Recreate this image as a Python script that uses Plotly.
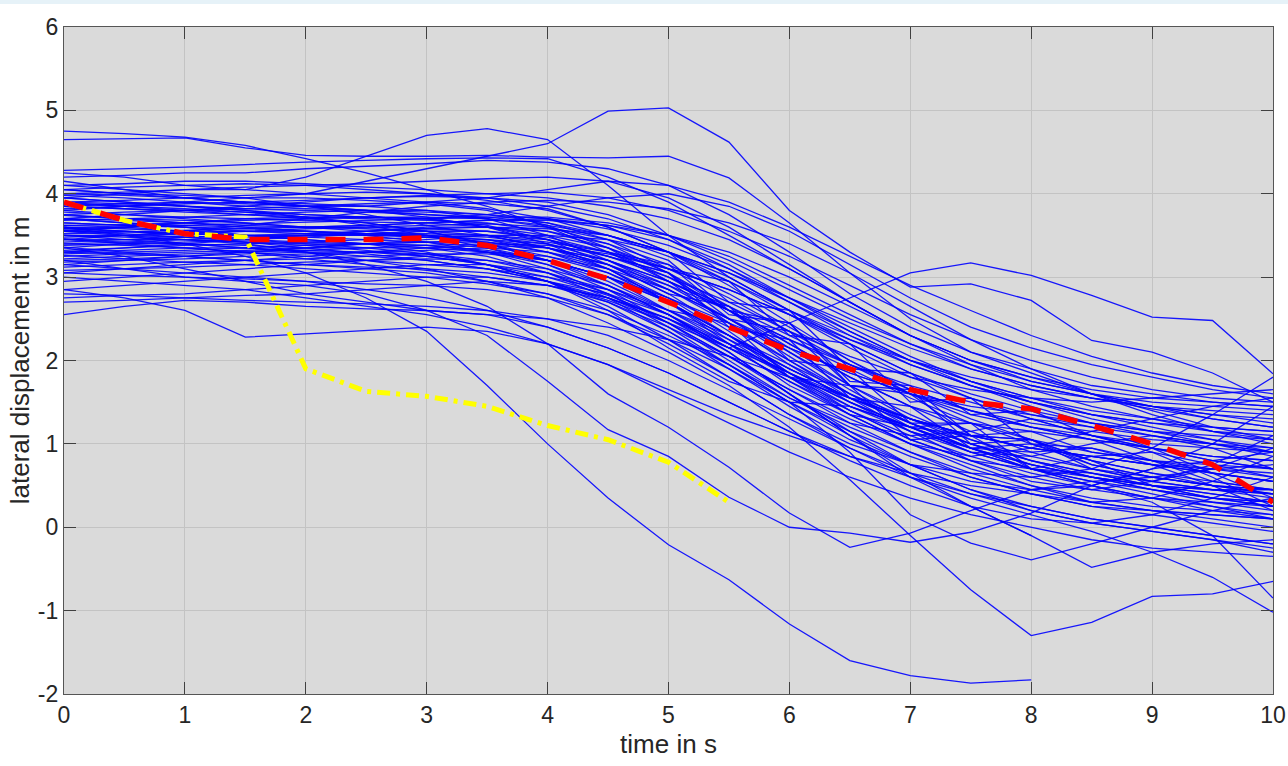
import plotly.graph_objects as go

# sample instants (s)
time_s = [0, 0.5, 1, 1.5, 2, 2.5, 3, 3.5, 4, 4.5, 5, 5.5, 6, 6.5, 7, 7.5, 8, 8.5, 9, 9.5, 10]

# recorded lateral displacement of every run (m), one value per sample instant
run_01 = [4.75, 4.72, 4.68, 4.58, 4.42, 4.25, 4.05, 3.85, 3.6, 3.3, 2.95, 2.6, 2.25, 1.95, 1.7, 1.5, 1.3, 1.1, 0.9, 0.75, 0.6]
run_02 = [4.65, 4.66, 4.67, 4.55, 4.46, 4.45, 4.45, 4.46, 4.44, 4.43, 4.45, 4.19, 3.65, 3.05, 2.5, 2.1, 1.85, 1.6, 1.4, 1.2, 1.05]
run_03 = [3.8, 3.85, 3.9, 3.95, 4.0, 4.15, 4.3, 4.45, 4.6, 4.99, 5.03, 4.62, 3.8, 3.3, 2.88, 2.92, 2.72, 2.24, 2.1, 1.85, 1.5]
run_04 = [4.25, 4.2, 4.1, 4.05, 4.2, 4.45, 4.7, 4.78, 4.65, 4.1, 3.5, 3.0, 2.6, 2.3, 2.0, 1.75, 1.55, 1.35, 1.2, 1.05, 0.9]
run_05 = [4.28, 4.3, 4.32, 4.35, 4.38, 4.4, 4.42, 4.43, 4.42, 4.2, 3.9, 3.5, 3.1, 2.7, 2.3, 2.0, 1.8, 1.6, 1.45, 1.3, 1.2]
run_06 = [4.2, 4.22, 4.25, 4.25, 4.3, 4.33, 4.36, 4.4, 4.38, 4.3, 4.1, 3.75, 3.3, 2.8, 2.4, 2.1, 1.9, 1.7, 1.6, 1.5, 1.45]
run_07 = [4.15, 4.05, 3.95, 3.9, 3.85, 3.85, 3.9, 3.95, 4.05, 4.15, 4.1, 3.9, 3.6, 3.25, 2.9, 2.6, 2.3, 2.05, 1.85, 1.7, 1.6]
run_08 = [3.35, 3.4, 3.4, 3.35, 3.3, 3.25, 3.2, 3.1, 2.95, 2.8, 2.55, 2.15, 2.45, 2.75, 3.05, 3.17, 3.02, 2.78, 2.52, 2.48, 1.84]
run_09 = [3.6, 3.5, 3.4, 3.25, 3.05, 2.75, 2.35, 1.7, 1.0, 0.35, -0.21, -0.63, -1.16, -1.6, -1.78, -1.87, -1.83]
run_10 = [3.2, 3.1, 3.0, 2.95, 2.9, 2.8, 2.6, 2.3, 1.75, 1.17, 0.85, 0.36, 0.0, -0.07, -0.18, -0.06, 0.17, 0.5, 0.7, 0.8, 0.9]
run_11 = [3.55, 3.5, 3.45, 3.4, 3.3, 3.15, 2.95, 2.65, 2.2, 1.6, 1.2, 0.72, 0.17, -0.24, -0.07, 0.2, 0.45, 0.55, 0.6, 0.7, 0.75]
run_12 = [3.9, 3.85, 3.8, 3.75, 3.7, 3.65, 3.55, 3.4, 3.2, 2.9, 2.55, 2.1, 1.6, 1.1, 0.6, 0.25, -0.1]
run_13 = [3.5, 3.45, 3.4, 3.35, 3.3, 3.2, 3.1, 2.95, 2.75, 2.45, 2.1, 1.7, 1.2, 0.57, -0.1, -0.75, -1.3, -1.14, -0.83, -0.8, -0.65]
run_14 = [3.7, 3.65, 3.6, 3.5, 3.45, 3.4, 3.3, 3.15, 2.95, 2.7, 2.35, 1.95, 1.5, 0.9, 0.15, -0.19, -0.39, -0.2, 0.0, 0.2, 0.35]
run_15 = [4.05, 4.0, 3.95, 3.9, 3.88, 3.85, 3.8, 3.7, 3.5, 3.2, 2.85, 2.5, 2.15, 1.85, 1.6, 1.45, 1.35, 1.25, 1.15, 1.05, 0.95]
run_16 = [3.95, 3.9, 3.85, 3.82, 3.8, 3.78, 3.75, 3.72, 3.65, 3.5, 3.3, 2.7, 2.6, 1.9, 1.85, 1.35, 1.4, 1.1, 0.95, 0.8, 0.7]
run_17 = [3.85, 3.82, 3.8, 3.78, 3.75, 3.72, 3.7, 3.6, 3.4, 3.1, 2.7, 2.25, 1.8, 1.4, 1.05, 0.8, 0.6, 0.45, 0.35, 0.3, 0.25]
run_18 = [3.78, 3.75, 3.72, 3.7, 3.68, 3.66, 3.65, 3.6, 3.5, 3.35, 3.1, 2.75, 2.35, 1.95, 1.6, 1.35, 1.2, 1.1, 1.0, 0.95, 0.9]
run_19 = [3.7, 3.68, 3.65, 3.62, 3.6, 3.6, 3.58, 3.55, 3.45, 3.25, 3.05, 2.4, 2.25, 1.55, 1.45, 0.95, 1.0, 0.75, 0.6, 0.5, 0.4]
run_20 = [3.65, 3.62, 3.6, 3.55, 3.52, 3.5, 3.5, 3.48, 3.4, 3.2, 2.9, 2.5, 2.05, 1.6, 1.2, 0.9, 0.7, 0.55, 0.45, 0.35, 0.3]
run_21 = [3.6, 3.58, 3.55, 3.55, 3.55, 3.52, 3.5, 3.45, 3.3, 3.05, 2.7, 2.3, 1.9, 1.55, 1.3, 1.1, 0.95, 0.85, 0.75, 0.65, 0.55]
run_22 = [3.55, 3.55, 3.52, 3.5, 3.48, 3.45, 3.42, 3.35, 3.2, 3.0, 2.75, 2.45, 2.15, 1.85, 1.6, 1.4, 1.25, 1.15, 1.05, 1.0, 0.95]
run_23 = [3.5, 3.5, 3.48, 3.45, 3.42, 3.4, 3.38, 3.32, 3.2, 3.0, 2.6, 2.45, 1.8, 1.7, 1.05, 1.1, 0.7, 0.6, 0.45, 0.35, 0.25]
run_24 = [3.45, 3.45, 3.45, 3.42, 3.4, 3.4, 3.38, 3.3, 3.15, 2.9, 2.55, 2.15, 1.75, 1.4, 1.1, 0.85, 0.65, 0.5, 0.35, 0.2, 0.1]
run_25 = [3.4, 3.42, 3.45, 3.48, 3.5, 3.52, 3.52, 3.5, 3.42, 3.3, 3.1, 2.85, 2.55, 2.25, 2.0, 1.8, 1.65, 1.55, 1.45, 1.4, 1.35]
run_26 = [3.3, 3.35, 3.4, 3.45, 3.5, 3.55, 3.6, 3.6, 3.55, 3.4, 3.15, 2.8, 2.4, 2.0, 1.65, 1.4, 1.2, 1.05, 0.95, 0.85, 0.8]
run_27 = [3.25, 3.28, 3.3, 3.32, 3.35, 3.4, 3.45, 3.5, 3.5, 3.45, 3.3, 3.05, 2.7, 2.35, 2.0, 1.75, 1.55, 1.4, 1.3, 1.2, 1.15]
run_28 = [3.15, 3.2, 3.25, 3.3, 3.35, 3.4, 3.42, 3.45, 3.4, 3.25, 3.05, 2.5, 2.35, 1.7, 1.6, 1.1, 1.15, 0.9, 0.8, 0.7, 0.6]
run_29 = [3.05, 3.1, 3.15, 3.2, 3.25, 3.3, 3.35, 3.38, 3.35, 3.2, 2.95, 2.6, 2.2, 1.8, 1.45, 1.15, 0.9, 0.7, 0.55, 0.45, 0.35]
run_30 = [2.95, 3.0, 3.05, 3.1, 3.15, 3.2, 3.25, 3.3, 3.25, 3.1, 2.85, 2.5, 2.1, 1.7, 1.35, 1.05, 0.8, 0.6, 0.45, 0.3, 0.2]
run_31 = [2.85, 2.9, 2.95, 3.0, 3.05, 3.1, 3.15, 3.15, 3.05, 2.85, 2.55, 2.2, 1.85, 1.5, 1.2, 0.95, 0.75, 0.6, 0.5, 0.4, 0.3]
run_32 = [2.75, 2.78, 2.8, 2.85, 2.9, 2.95, 3.0, 3.0, 2.9, 2.7, 2.4, 2.05, 1.65, 1.25, 0.9, 0.6, 0.4, 0.25, 0.15, 0.05, -0.05]
run_33 = [2.55, 2.65, 2.72, 2.7, 2.65, 2.62, 2.6, 2.55, 2.4, 2.15, 1.85, 1.5, 1.15, 0.85, 0.6, 0.4, 0.25, 0.1, 0.0, -0.1, -0.2]
run_34 = [2.85, 2.75, 2.6, 2.28, 2.32, 2.36, 2.4, 2.35, 2.2, 1.95, 1.6, 1.25, 0.9, 0.6, 0.35, 0.15, 0.0, -0.15, -0.25, -0.3, -0.35]
run_35 = [2.8, 2.78, 2.75, 2.72, 2.7, 2.68, 2.65, 2.6, 2.5, 2.3, 2.0, 1.65, 1.3, 0.95, 0.65, 0.4, 0.2, 0.05, -0.05, -0.15, -0.3]
run_36 = [3.0, 2.95, 2.9, 2.85, 2.75, 2.65, 2.55, 2.4, 2.2, 1.95, 1.65, 1.35, 1.1, 0.85, 0.65, 0.5, 0.4, 0.3, 0.2, 0.15, 0.1]
run_37 = [3.35, 3.25, 3.1, 2.95, 2.8, 2.7, 2.6, 2.55, 2.5, 2.4, 2.25, 2.05, 1.8, 1.55, 1.3, 1.1, 0.95, 0.85, 0.75, 0.65, 0.55]
run_38 = [4.1, 4.05, 4.0, 3.95, 3.85, 3.75, 3.62, 3.5, 3.35, 3.15, 2.9, 2.6, 2.25, 1.9, 1.55, 1.25, 1.0, 0.8, 0.65, 0.55, 0.45]
run_39 = [4.0, 4.02, 4.05, 4.08, 4.1, 4.12, 4.15, 4.18, 4.2, 4.15, 3.95, 3.6, 3.15, 2.7, 2.3, 2.0, 1.75, 1.6, 1.5, 1.45, 1.4]
run_40 = [3.9, 3.92, 3.95, 3.98, 4.0, 4.02, 4.0, 3.95, 3.85, 3.7, 3.45, 3.1, 2.7, 2.3, 1.95, 1.7, 1.5, 1.35, 1.25, 1.15, 1.1]
run_41 = [3.82, 3.85, 3.88, 3.9, 3.92, 3.95, 3.97, 3.95, 3.9, 3.75, 3.5, 3.2, 2.85, 2.5, 2.2, 1.95, 1.75, 1.6, 1.45, 1.35, 1.25]
run_42 = [3.75, 3.78, 3.8, 3.82, 3.85, 3.88, 3.9, 3.88, 3.82, 3.6, 3.3, 2.9, 2.45, 2.0, 1.6, 1.3, 1.05, 0.9, 0.8, 0.75, 0.7]
run_43 = [3.68, 3.7, 3.72, 3.75, 3.78, 3.8, 3.8, 3.75, 3.65, 3.45, 3.2, 2.6, 2.45, 1.75, 1.7, 1.1, 1.05, 0.8, 0.65, 0.5, 0.4]
run_44 = [3.62, 3.63, 3.65, 3.68, 3.7, 3.72, 3.72, 3.7, 3.6, 3.4, 3.05, 2.6, 2.1, 1.65, 1.25, 0.95, 0.7, 0.5, 0.35, 0.25, 0.15]
run_45 = [3.58, 3.6, 3.62, 3.64, 3.66, 3.68, 3.7, 3.72, 3.72, 3.65, 3.5, 3.25, 2.9, 2.55, 2.2, 1.9, 1.7, 1.55, 1.45, 1.35, 1.3]
run_46 = [3.52, 3.54, 3.56, 3.58, 3.6, 3.62, 3.65, 3.68, 3.7, 3.62, 3.45, 3.15, 2.75, 2.35, 2.0, 1.7, 1.45, 1.25, 1.1, 1.0, 0.9]
run_47 = [3.48, 3.5, 3.52, 3.55, 3.58, 3.6, 3.62, 3.64, 3.6, 3.45, 3.1, 2.95, 2.3, 2.2, 1.5, 1.55, 1.0, 0.95, 0.8, 0.65, 0.55]
run_48 = [3.42, 3.45, 3.48, 3.5, 3.52, 3.55, 3.58, 3.6, 3.58, 3.5, 3.3, 3.0, 2.6, 2.2, 1.85, 1.6, 1.4, 1.25, 1.15, 1.1, 1.05]
run_49 = [3.38, 3.4, 3.42, 3.45, 3.48, 3.52, 3.55, 3.55, 3.48, 3.3, 3.0, 2.6, 2.15, 1.7, 1.3, 1.0, 0.75, 0.6, 0.5, 0.45, 0.4]
run_50 = [3.32, 3.35, 3.38, 3.4, 3.42, 3.45, 3.48, 3.5, 3.45, 3.3, 3.15, 2.55, 2.45, 1.7, 1.65, 1.0, 1.05, 0.75, 0.6, 0.5, 0.45]
run_51 = [3.28, 3.3, 3.32, 3.35, 3.38, 3.4, 3.42, 3.42, 3.35, 3.2, 2.95, 2.65, 2.3, 1.95, 1.65, 1.4, 1.2, 1.05, 0.95, 0.85, 0.8]
run_52 = [3.22, 3.25, 3.28, 3.3, 3.32, 3.35, 3.38, 3.4, 3.38, 3.28, 3.1, 2.85, 2.55, 2.2, 1.85, 1.55, 1.3, 1.1, 0.95, 0.8, 0.7]
run_53 = [3.18, 3.2, 3.22, 3.25, 3.28, 3.3, 3.32, 3.35, 3.3, 3.15, 2.8, 2.65, 2.0, 1.9, 1.25, 1.25, 0.7, 0.65, 0.5, 0.35, 0.25]
run_54 = [3.12, 3.15, 3.18, 3.2, 3.22, 3.25, 3.28, 3.28, 3.2, 3.0, 2.7, 2.3, 1.9, 1.55, 1.25, 1.0, 0.8, 0.65, 0.55, 0.45, 0.4]
run_55 = [3.08, 3.1, 3.12, 3.15, 3.18, 3.2, 3.22, 3.2, 3.1, 2.9, 2.6, 2.25, 1.9, 1.55, 1.25, 1.0, 0.8, 0.65, 0.5, 0.4, 0.3]
run_56 = [3.7, 3.75, 3.8, 3.85, 3.9, 3.95, 3.98, 4.0, 4.02, 3.95, 3.8, 3.55, 3.25, 2.9, 2.55, 2.25, 2.0, 1.8, 1.65, 1.55, 1.5]
run_57 = [3.95, 3.9, 3.85, 3.8, 3.75, 3.72, 3.7, 3.75, 3.85, 3.95, 4.0, 3.85, 3.55, 3.15, 2.75, 2.4, 2.15, 1.95, 1.8, 1.65, 1.55]
run_58 = [4.05, 4.08, 4.1, 4.12, 4.1, 4.05, 4.0, 3.92, 3.8, 3.6, 3.3, 2.95, 2.55, 2.15, 1.8, 1.55, 1.35, 1.2, 1.1, 1.0, 0.9]
run_59 = [3.88, 3.85, 3.82, 3.78, 3.72, 3.65, 3.55, 3.4, 3.2, 2.95, 2.6, 2.2, 1.8, 1.45, 1.15, 0.9, 0.7, 0.55, 0.4, 0.25, 0.1]
run_60 = [3.74, 3.7, 3.65, 3.6, 3.55, 3.5, 3.42, 3.3, 3.1, 2.8, 2.4, 1.95, 1.5, 1.1, 0.75, 0.45, 0.25, 0.1, 0.0, -0.1, -0.2]
run_61 = [3.56, 3.52, 3.48, 3.42, 3.35, 3.28, 3.2, 3.1, 2.95, 2.72, 2.45, 2.15, 1.85, 1.55, 1.3, 1.1, 0.95, 0.85, 0.75, 0.7, 0.65]
run_62 = [3.46, 3.4, 3.35, 3.3, 3.25, 3.2, 3.15, 3.1, 3.0, 2.85, 2.6, 2.3, 1.95, 1.6, 1.3, 1.05, 0.85, 0.7, 0.6, 0.5, 0.45]
run_63 = [3.36, 3.3, 3.25, 3.2, 3.15, 3.12, 3.1, 3.05, 2.95, 2.75, 2.45, 2.05, 1.6, 1.15, 0.75, 0.45, 0.2, 0.05, -0.05, -0.15, -0.25]
run_64 = [3.26, 3.22, 3.18, 3.15, 3.1, 3.05, 3.0, 2.92, 2.8, 2.6, 2.3, 1.95, 1.55, 1.2, 0.9, 0.65, 0.45, 0.3, 0.2, 0.1, 0.0]
run_65 = [3.6, 3.55, 3.5, 3.45, 3.4, 3.35, 3.28, 3.15, 2.95, 2.65, 2.25, 1.8, 1.35, 0.95, 0.6, 0.35, 0.15, -0.05, -0.3, -0.6, -1.02]
run_66 = [3.8, 3.75, 3.7, 3.65, 3.6, 3.55, 3.5, 3.4, 3.25, 3.05, 2.75, 2.4, 2.0, 1.6, 1.25, 0.95, 0.7, 0.5, 0.3, -0.1, -0.85]
run_67 = [3.5, 3.48, 3.45, 3.42, 3.38, 3.32, 3.25, 3.15, 3.0, 2.78, 2.5, 2.1, 1.6, 1.1, 0.65, 0.25, -0.1, -0.48, -0.3, -0.2, -0.15]
run_68 = [3.3, 3.28, 3.25, 3.2, 3.15, 3.1, 3.05, 2.95, 2.8, 2.55, 2.2, 1.8, 1.35, 1.0, 0.75, 0.65, 0.6, 0.7, 0.95, 1.35, 1.8]
run_69 = [3.62, 3.6, 3.55, 3.5, 3.45, 3.4, 3.35, 3.25, 3.05, 2.75, 2.35, 1.9, 1.45, 1.05, 0.75, 0.55, 0.45, 0.5, 0.7, 1.0, 1.45]
run_70 = [4.0, 3.98, 3.95, 3.9, 3.85, 3.8, 3.72, 3.6, 3.45, 3.25, 3.0, 2.7, 2.35, 2.05, 1.8, 1.65, 1.55, 1.5, 1.55, 1.6, 1.65]
run_71 = [3.15, 3.1, 3.05, 3.0, 2.95, 2.85, 2.75, 2.6, 2.4, 2.15, 1.85, 1.5, 1.15, 0.8, 0.5, 0.25, 0.1, 0.05, 0.15, 0.35, 0.6]
run_72 = [2.7, 2.72, 2.75, 2.78, 2.8, 2.85, 2.9, 2.95, 2.9, 2.75, 2.5, 2.2, 1.85, 1.5, 1.2, 0.95, 0.75, 0.6, 0.5, 0.45, 0.45]
run_73 = [3.95, 4.0, 4.05, 4.05, 4.0, 3.95, 3.9, 3.82, 3.7, 3.5, 3.25, 2.95, 2.6, 2.25, 1.95, 1.7, 1.5, 1.35, 1.25, 1.2, 1.15]
run_74 = [4.1, 4.12, 4.15, 4.15, 4.12, 4.08, 4.05, 4.0, 3.95, 3.85, 3.7, 3.45, 3.1, 2.7, 2.3, 1.95, 1.65, 1.45, 1.3, 1.15, 1.05]
run_75 = [3.45, 3.5, 3.55, 3.62, 3.7, 3.78, 3.85, 3.9, 3.92, 3.9, 3.82, 3.65, 3.4, 3.05, 2.65, 2.25, 1.9, 1.6, 1.35, 1.15, 1.0]
run_76 = [3.05, 3.02, 3.0, 2.98, 2.95, 2.92, 2.9, 2.85, 2.75, 2.55, 2.25, 1.9, 1.5, 1.15, 0.85, 0.6, 0.4, 0.25, 0.2, 0.15, 0.1]
run_77 = [3.85, 3.88, 3.9, 3.88, 3.85, 3.8, 3.75, 3.7, 3.62, 3.5, 3.3, 3.05, 2.75, 2.45, 2.15, 1.9, 1.7, 1.55, 1.42, 1.3, 1.2]
run_78 = [3.7, 3.65, 3.62, 3.6, 3.6, 3.62, 3.65, 3.68, 3.68, 3.62, 3.5, 3.3, 3.0, 2.65, 2.3, 2.0, 1.8, 1.65, 1.55, 1.5, 1.45]
run_79 = [3.4, 3.38, 3.35, 3.3, 3.22, 3.15, 3.08, 3.0, 2.9, 2.75, 2.5, 2.15, 1.75, 1.35, 1.0, 0.7, 0.5, 0.35, 0.25, 0.2, 0.15]
run_80 = [3.98, 3.95, 3.9, 3.85, 3.82, 3.8, 3.78, 3.75, 3.7, 3.58, 3.38, 3.1, 2.75, 2.4, 2.05, 1.75, 1.5, 1.3, 1.15, 1.0, 0.85]
run_81 = [3.75, 3.7, 3.68, 3.65, 3.6, 3.58, 3.55, 3.5, 3.35, 3.1, 2.7, 2.2, 1.7, 1.35, 1.2, 1.25, 1.05, 0.7, 0.55, 0.7, 0.95]
run_82 = [3.3, 3.32, 3.35, 3.35, 3.32, 3.3, 3.25, 3.15, 2.95, 2.6, 2.15, 1.75, 1.5, 1.45, 1.2, 0.9, 0.85, 1.0, 1.1, 0.95, 0.7]
run_83 = [3.9, 3.88, 3.85, 3.8, 3.72, 3.62, 3.5, 3.35, 3.15, 2.85, 2.45, 2.0, 1.55, 1.25, 1.1, 1.15, 1.3, 1.2, 0.95, 0.65, 0.35]
run_84 = [3.55, 3.6, 3.65, 3.7, 3.72, 3.72, 3.7, 3.62, 3.45, 3.15, 2.8, 2.35, 1.85, 1.4, 1.05, 0.8, 0.7, 0.85, 0.9, 0.6, 0.25]
run_85 = [3.2, 3.22, 3.25, 3.28, 3.3, 3.3, 3.28, 3.2, 3.05, 2.8, 2.45, 2.05, 1.65, 1.3, 1.0, 0.75, 0.5, 0.3, 0.35, 0.55, 0.85]
run_86 = [4.05, 4.0, 3.98, 3.95, 3.95, 3.92, 3.88, 3.8, 3.62, 3.35, 2.95, 2.45, 1.95, 1.5, 1.15, 0.95, 0.9, 0.95, 0.75, 0.5, 0.2]
run_87 = [3.65, 3.62, 3.6, 3.58, 3.55, 3.52, 3.48, 3.42, 3.3, 3.1, 2.75, 2.3, 1.8, 1.35, 1.0, 0.85, 0.95, 1.15, 1.3, 1.45, 1.55]
run_88 = [3.45, 3.42, 3.4, 3.38, 3.35, 3.35, 3.35, 3.3, 3.2, 3.0, 2.7, 2.3, 1.85, 1.45, 1.2, 1.1, 1.05, 0.8, 0.5, 0.35, 0.3]
run_89 = [3.85, 3.82, 3.78, 3.75, 3.72, 3.7, 3.68, 3.65, 3.55, 3.35, 3.05, 2.65, 2.2, 1.8, 1.45, 1.25, 1.15, 1.05, 0.8, 0.55, 0.45]
run_90 = [3.58, 3.55, 3.52, 3.5, 3.5, 3.5, 3.48, 3.45, 3.35, 3.15, 2.85, 2.45, 2.0, 1.55, 1.15, 0.8, 0.55, 0.45, 0.55, 0.75, 1.1]

# mean trajectory (red) and the highlighted manoeuvre (yellow)
mean_run = [3.9, 3.68, 3.52, 3.45, 3.45, 3.45, 3.47, 3.38, 3.2, 2.98, 2.7, 2.4, 2.12, 1.9, 1.65, 1.5, 1.42, 1.22, 1.0, 0.75, 0.3]
highlight_run = [3.9, 3.68, 3.52, 3.48, 1.9, 1.63, 1.57, 1.45, 1.22, 1.05, 0.78, 0.3]

x_ticks = [0, 1, 2, 3, 4, 5, 6, 7, 8, 9, 10]
y_ticks = [-2, -1, 0, 1, 2, 3, 4, 5, 6]

runs = [
    run_01, run_02, run_03, run_04, run_05, run_06, run_07, run_08, run_09, run_10,
    run_11, run_12, run_13, run_14, run_15, run_16, run_17, run_18, run_19, run_20,
    run_21, run_22, run_23, run_24, run_25, run_26, run_27, run_28, run_29, run_30,
    run_31, run_32, run_33, run_34, run_35, run_36, run_37, run_38, run_39, run_40,
    run_41, run_42, run_43, run_44, run_45, run_46, run_47, run_48, run_49, run_50,
    run_51, run_52, run_53, run_54, run_55, run_56, run_57, run_58, run_59, run_60,
    run_61, run_62, run_63, run_64, run_65, run_66, run_67, run_68, run_69, run_70,
    run_71, run_72, run_73, run_74, run_75, run_76, run_77, run_78, run_79, run_80,
    run_81, run_82, run_83, run_84, run_85, run_86, run_87, run_88, run_89, run_90,
]

fig = go.Figure()

for r in runs:
    fig.add_trace(go.Scatter(
        x=time_s[:len(r)], y=r, mode="lines",
        line=dict(color="rgba(0,0,255,0.9)", width=1.3),
        hoverinfo="skip", showlegend=False,
    ))

fig.add_trace(go.Scatter(
    x=time_s[:len(highlight_run)], y=highlight_run, mode="lines",
    line=dict(color="#ffff00", width=5, dash="13px,6px,4px,6px"),
    showlegend=False,
))
fig.add_trace(go.Scatter(
    x=time_s[:len(mean_run)], y=mean_run, mode="lines",
    line=dict(color="#ff0000", width=5.5, dash="20px,18px"),
    showlegend=False,
))

font_family = "Liberation Sans, Arial, sans-serif"
tick_font = dict(family=font_family, size=23, color="#262626")
title_font = dict(family=font_family, size=26, color="#262626")

fig.update_layout(
    width=1288, height=766,
    margin=dict(l=64, r=15, t=27, b=72),
    paper_bgcolor="white",
    plot_bgcolor="#dadada",
    showlegend=False,
    font=tick_font,
    shapes=[dict(
        type="rect", xref="paper", yref="paper",
        x0=-64 / 1209, x1=1 + 15 / 1209,
        y0=1 + 23 / 667, y1=1 + 27 / 667,
        fillcolor="#e6f2f8", line=dict(width=0), layer="below",
    )],
)

fig.update_xaxes(
    range=[0, 10], tickvals=x_ticks, ticktext=[str(v) for v in x_ticks],
    automargin=False,
    showgrid=True, gridcolor="#c3c3c3", gridwidth=1, zeroline=False,
    showline=True, linecolor="#555555", linewidth=1.2, mirror="ticks",
    ticks="inside", ticklen=12, tickcolor="#404040", tickwidth=1.2,
    tickfont=tick_font,
    title=dict(text="time in s", font=title_font, standoff=8),
)
fig.update_yaxes(
    range=[-2, 6], tickvals=y_ticks, ticktext=[str(v) for v in y_ticks],
    automargin=False,
    showgrid=True, gridcolor="#c3c3c3", gridwidth=1, zeroline=False,
    showline=True, linecolor="#555555", linewidth=1.2, mirror="ticks",
    ticks="inside", ticklen=12, tickcolor="#404040", tickwidth=1.2,
    tickfont=tick_font,
    title=dict(text="lateral displacement in m", font=title_font, standoff=0),
)

fig.write_html("out.html")
